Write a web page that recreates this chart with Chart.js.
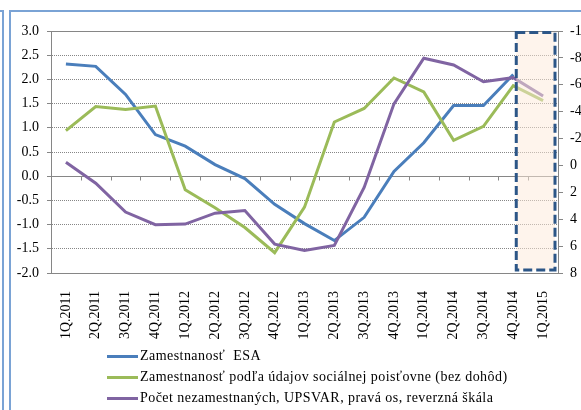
<!DOCTYPE html>
<html>
<head>
<meta charset="utf-8">
<script src="https://cdn.jsdelivr.net/npm/chart.js@4.4.1/dist/chart.umd.min.js"></script>
<style>
  html, body { margin: 0; padding: 0; background: #fff; }
  #wrap { position: relative; width: 581px; height: 410px; overflow: hidden; }
  .frame { position: absolute; border: 0 solid #7aa3d5; }
  #f1 { left: -50px; top: 10px; width: 52px; height: 500px; border-top-width: 2px; border-right-width: 2px; }
  #f2 { left: 9px; top: 10px; width: 700px; height: 500px; border-top-width: 2px; border-left-width: 2px; }
  #myChart { position: absolute; left: 0; top: 0; }
  #legend { position: absolute; left: 107px; top: 345px; font: 14px 'Liberation Serif'; color: #000; }
  #legend .row { height: 21px; line-height: 21px; white-space: pre; }
  #legend .sw { display: inline-block; width: 31px; height: 3px; vertical-align: middle; margin-right: 2px; }
  #legend .txt { letter-spacing: 0.45px; }
</style>
</head>
<body>
<div id="wrap">
  <div class="frame" id="f1"></div>
  <div class="frame" id="f2"></div>
  <canvas id="myChart" width="581" height="410"></canvas>
  <div id="legend"></div>
</div>
<script>
// quarters on the x axis
let labels = [ '1Q.2011', '2Q.2011', '3Q.2011', '4Q.2011',
               '1Q.2012', '2Q.2012', '3Q.2012', '4Q.2012',
               '1Q.2013', '2Q.2013', '3Q.2013', '4Q.2013',
               '1Q.2014', '2Q.2014', '3Q.2014', '4Q.2014',
               '1Q.2015' ];

// left axis, %
let esa_data = [ 2.32, 2.27, 1.69, 0.86, 0.62, 0.24, -0.05, -0.58,
                 -0.98, -1.33, -0.85, 0.10, 0.69, 1.46, 1.46, 2.10, null ];
let sp_data  = [ 0.94, 1.44, 1.38, 1.45, -0.28, -0.65, -1.06, -1.58,
                 -0.64, 1.12, 1.40, 2.03, 1.74, 0.74, 1.03, 1.87, 1.56 ];
// right axis, reversed
let upsvar_data = [ -0.24, 1.32, 3.47, 4.41, 4.36, 3.55, 3.35, 5.85,
                    6.32, 5.95, 1.64, -4.58, -7.97, -7.47, -6.23, -6.53, -5.17 ];

let left_ticks  = { min: -2, max: 3, step: 0.5 };
let right_ticks = { min: -10, max: 8, step: 2 };

// shaded forecast part starts at this quarter
let box_from = '4Q.2014';

const font = { family: 'Liberation Serif', size: 14 };
const grid_color = '#868686';

const extras = {
  id: 'extras',
  beforeDatasetsDraw( chart ){
    let { ctx, chartArea, scales } = chart;
    let y0 = Math.round( scales.y.getPixelForValue( 0 ) ) + 0.5;
    let step = ( chartArea.right - chartArea.left ) / labels.length;
    ctx.save();
    ctx.strokeStyle = grid_color;
    ctx.lineWidth = 1;
    for( let i = 1 ; i < labels.length ; i++ ){
      let px = Math.round( chartArea.left + i * step ) + 0.5;
      ctx.beginPath();
      ctx.moveTo( px, y0 );
      ctx.lineTo( px, y0 + 4 );
      ctx.stroke();
    }
    ctx.restore();
  },
  afterDatasetsDraw( chart ){
    let { ctx, chartArea, scales } = chart;
    let x0 = scales.x.getPixelForValue( labels.indexOf( box_from ) ) + 3;
    let x1 = chartArea.right - 3;
    let y0 = chartArea.top + 1.5;
    let y1 = chartArea.bottom - 3;
    ctx.save();
    ctx.fillStyle = 'rgba(253, 234, 218, 0.5)';
    ctx.fillRect( x0, y0, x1 - x0, y1 - y0 );
    ctx.strokeStyle = '#2c5687';
    ctx.lineWidth = 3;
    ctx.setLineDash( [ 9, 4 ] );
    ctx.strokeRect( x0, y0, x1 - x0, y1 - y0 );
    ctx.restore();
  }
};

window.addEventListener( "load", () => {
  let canvas = document.getElementById( "myChart" );
  let ctx = canvas.getContext( "2d" );

  let data = {
    labels,
    datasets: [
      {
        label: 'Zamestnanosť  ESA',
        data: esa_data,
        borderColor: '#4a7ebb',
        yAxisID: 'y',
        order: 3
      },
      {
        label: 'Zamestnanosť podľa údajov sociálnej poisťovne (bez dohôd)',
        data: sp_data,
        borderColor: '#9bbb59',
        yAxisID: 'y',
        order: 2
      },
      {
        label: 'Počet nezamestnaných, UPSVAR, pravá os, reverzná škála',
        data: upsvar_data,
        borderColor: '#8064a2',
        yAxisID: 'y2',
        order: 1
      }
    ]
  };
  data.datasets.forEach( ds => {
    ds.borderWidth = 3;
    ds.pointRadius = 0;
    ds.tension = 0;
    ds.fill = false;
  });

  let config = {
    type: 'line',
    data: data,
    options: {
      responsive: false,
      animation: false,
      layout: { padding: { top: 31, left: 0, right: 0, bottom: 0 } },
      plugins: {
        legend: { display: false },
        tooltip: { enabled: false }
      },
      scales: {
        x: {
          offset: true,
          grid: { display: false },
          border: { display: false },
          ticks: {
            autoSkip: false, minRotation: 90, maxRotation: 90,
            padding: 10, color: '#000', font
          },
          afterFit( s ){ s.height = 137; }
        },
        y: {
          position: 'left',
          min: left_ticks.min, max: left_ticks.max,
          ticks: {
            stepSize: left_ticks.step, padding: 8, color: '#000', font,
            callback: v => v.toFixed( 1 )
          },
          grid: { color: grid_color, tickLength: 4 },
          border: {
            display: true, color: grid_color,
            dash: c => ( c.tick && [ 3, 0, -2 ].includes( c.tick.value ) ) ? [ ] : [ 1, 1 ]
          },
          afterFit( s ){ s.width = 51; }
        },
        y2: {
          position: 'right',
          reverse: true,
          min: right_ticks.min, max: right_ticks.max,
          ticks: { stepSize: right_ticks.step, padding: 7, color: '#000', font },
          grid: { drawOnChartArea: false, color: grid_color, tickLength: 5 },
          border: { display: true, color: grid_color },
          afterFit( s ){ s.width = 23; }
        }
      }
    },
    plugins: [ extras ]
  };

  let chart = new Chart( ctx, config );

  let legend = document.getElementById( "legend" );
  chart.data.datasets.forEach( ds => {
    let row = document.createElement( "div" );
    row.className = "row";
    let sw = document.createElement( "span" );
    sw.className = "sw";
    sw.style.background = ds.borderColor;
    let txt = document.createElement( "span" );
    txt.className = "txt";
    txt.textContent = ds.label;
    row.appendChild( sw );
    row.appendChild( txt );
    legend.appendChild( row );
  });
});
</script>
</body>
</html>
